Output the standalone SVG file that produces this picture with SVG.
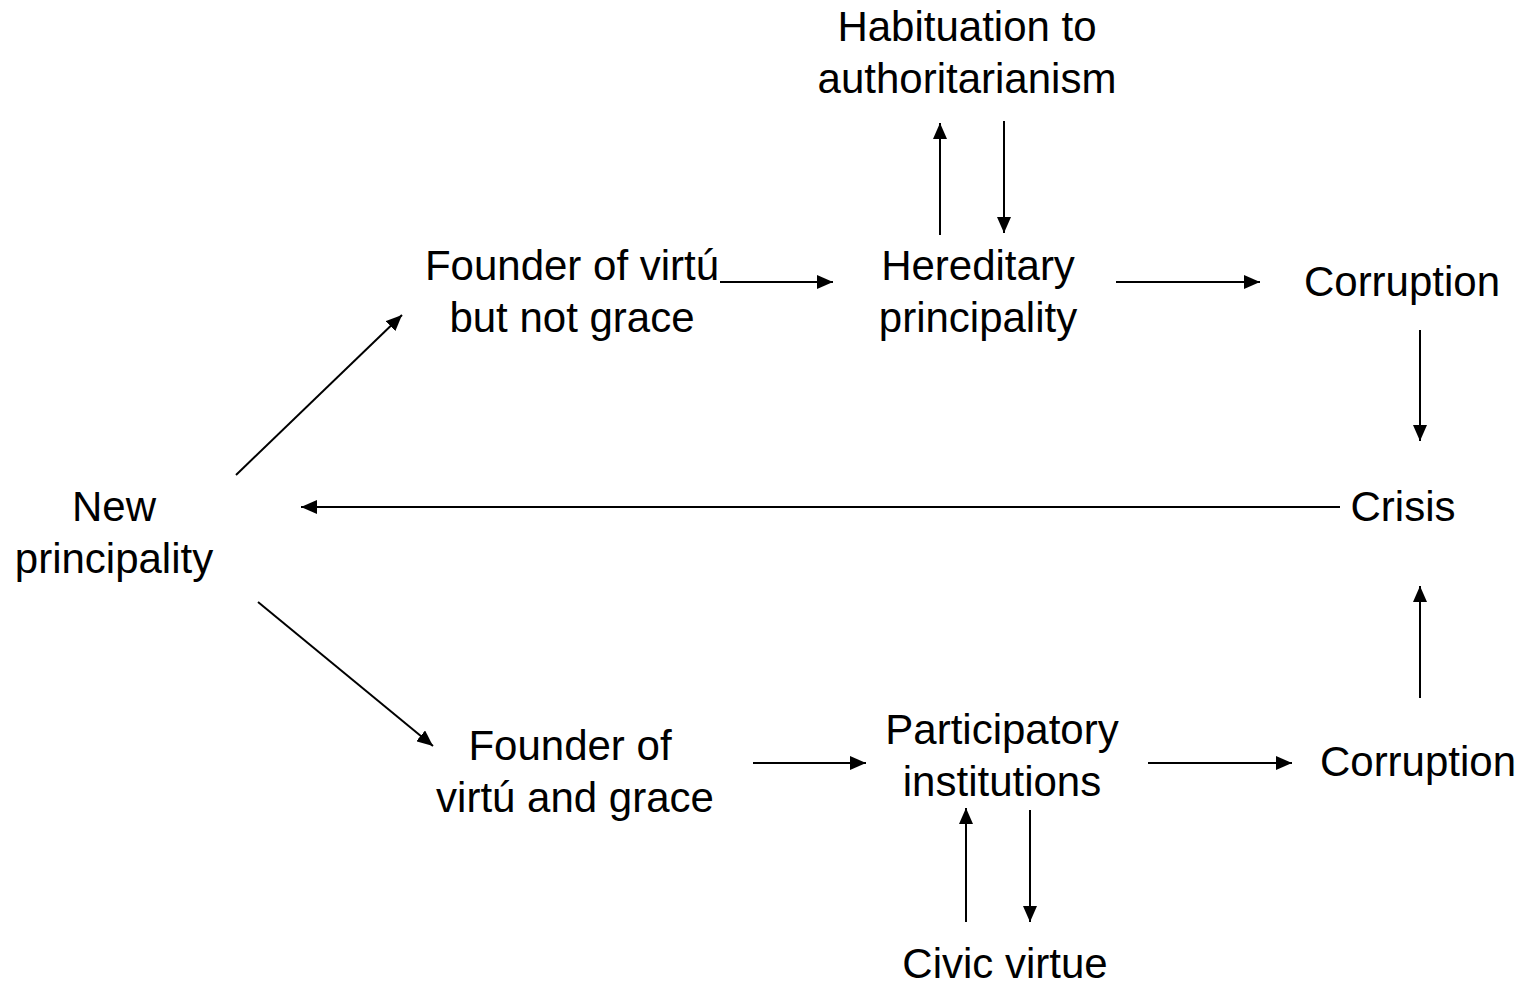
<svg xmlns="http://www.w3.org/2000/svg" width="1526" height="988" viewBox="0 0 1526 988">
<defs>
<style>
text{font-family:"Liberation Sans",Arial,sans-serif;font-size:42px;fill:#000;text-anchor:middle}
.c line{stroke:#000;stroke-width:2;marker-end:url(#ah)}
</style>
<marker id="ah" markerUnits="userSpaceOnUse" markerWidth="17" markerHeight="14" refX="16" refY="7" orient="auto">
<path d="M0,0 L16,7 L0,14 Z" fill="#000"/>
</marker>
</defs>
<rect width="1526" height="988" fill="#fff"/>
<g id="habituation"><text x="967" y="41">Habituation to</text><text x="967" y="93">authoritarianism</text></g>
<g id="founder1"><text x="572" y="280">Founder of virtú</text><text x="572" y="332">but not grace</text></g>
<g id="hereditary"><text x="978" y="280">Hereditary</text><text x="978" y="332">principality</text></g>
<g id="corruption1"><text x="1402" y="296">Corruption</text></g>
<g id="new"><text x="114" y="521">New</text><text x="114" y="573">principality</text></g>
<g id="crisis"><text x="1403" y="521">Crisis</text></g>
<g id="founder2"><text x="570" y="760">Founder of</text><text x="575" y="812">virtú and grace</text></g>
<g id="participatory"><text x="1002" y="744">Participatory</text><text x="1002" y="796">institutions</text></g>
<g id="corruption2"><text x="1418" y="776">Corruption</text></g>
<g id="civic"><text x="1005" y="978">Civic virtue</text></g>
<g id="connectors" class="c">
<line x1="236" y1="475" x2="402" y2="315"/>
<line x1="258" y1="602" x2="433" y2="746"/>
<line x1="720" y1="282" x2="833" y2="282"/>
<line x1="1116" y1="282" x2="1260" y2="282"/>
<line x1="940" y1="235" x2="940" y2="123"/>
<line x1="1004" y1="121" x2="1004" y2="233"/>
<line x1="1420" y1="330" x2="1420" y2="441"/>
<line x1="1340" y1="507" x2="301" y2="507"/>
<line x1="1420" y1="698" x2="1420" y2="586"/>
<line x1="753" y1="763" x2="866" y2="763"/>
<line x1="1148" y1="763" x2="1292" y2="763"/>
<line x1="966" y1="922" x2="966" y2="808"/>
<line x1="1030" y1="810" x2="1030" y2="922"/>
</g>
</svg>
